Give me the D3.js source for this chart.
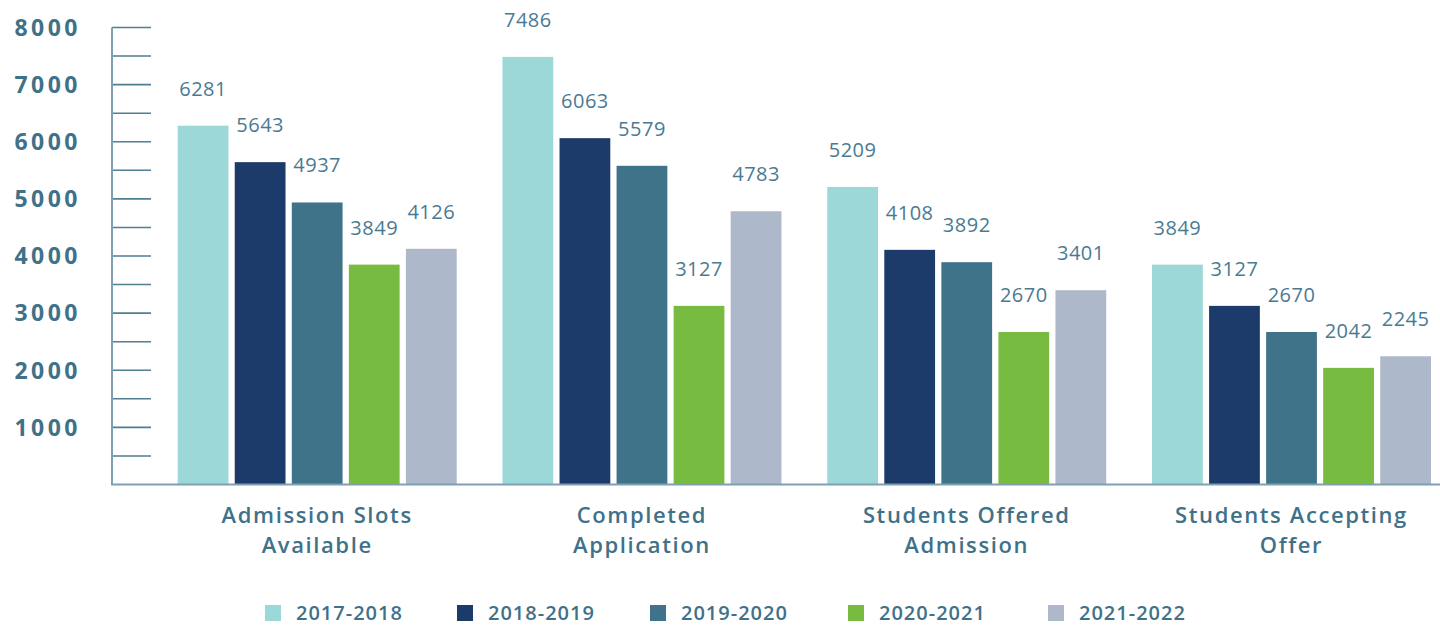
<!DOCTYPE html>
<html><head><meta charset="utf-8">
<script src="https://cdn.jsdelivr.net/npm/d3@7"></script>
<style>
html,body{margin:0;padding:0;background:#fff;}
svg{display:block;font-family:"Open Sans",sans-serif;}
</style></head>
<body><svg id="chart" width="1440" height="625"></svg>
<script>
const categories = [["Admission Slots","Available"],["Completed","Application"],["Students Offered","Admission"],["Students Accepting","Offer"]];
const seriesNames = ["2017-2018","2018-2019","2019-2020","2020-2021","2021-2022"];
const s2017 = [6281, 7486, 5209, 3849];
const s2018 = [5643, 6063, 4108, 3127];
const s2019 = [4937, 5579, 3892, 2670];
const s2020 = [3849, 3127, 2670, 2042];
const s2021 = [4126, 4783, 3401, 2245];
const yTicks = [1000,2000,3000,4000,5000,6000,7000,8000];
const colors = ["#9dd8d8","#1c3b6b","#3f7389","#78bb41","#adb8cb"];

const series = [s2017,s2018,s2019,s2020,s2021];
const svg = d3.select("#chart");
const textColor = "#3f7189";

const y = d3.scaleLinear().domain([0,8000]).range([484.5,27.5]);
const x0 = d3.scaleBand().domain(d3.range(categories.length)).range([154.8,1453.9]).paddingInner(0.141).paddingOuter(0.0705);
const x1 = d3.scaleBand().domain(seriesNames).range([0,x0.bandwidth()]).paddingInner(0.11);

// minor ticks every 500
const axisG = svg.append("g");
axisG.selectAll("line.tk").data(d3.range(500,8001,500)).join("line")
  .attr("x1",112).attr("x2",151).attr("y1",d=>y(d)).attr("y2",d=>y(d))
  .attr("stroke","#4f7e95").attr("stroke-width",1.6);
axisG.append("line").attr("x1",112).attr("x2",112).attr("y1",y(8000)).attr("y2",y(0))
  .attr("stroke","#7ea0b1").attr("stroke-width",2);

// bars
const groups = svg.append("g").selectAll("g").data(categories).join("g")
  .attr("transform",(d,i)=>`translate(${x0(i)},0)`);
groups.each(function(c,i){
  const g = d3.select(this);
  seriesNames.forEach((s,j)=>{
    const v = series[j][i];
    g.append("rect").attr("x",x1(s)).attr("width",x1.bandwidth())
      .attr("y",y(v)).attr("height",y(0)-y(v)).attr("fill",colors[j]);
    g.append("text").attr("x",x1(s)+x1.bandwidth()/2).attr("y",y(v)-30)
      .attr("text-anchor","middle").attr("fill","#4a7a92")
      .style("font-size","20px").style("letter-spacing","0.5px").text(v);
  });
  const t = g.append("text").attr("text-anchor","middle").attr("fill",textColor)
    .style("font-size","22px").style("font-weight","600").style("letter-spacing","1.6px");
  c.forEach((line,k)=>{
    t.append("tspan").attr("x",x0.bandwidth()/2).attr("y",523+k*30).text(line);
  });
});

// bottom axis line
svg.append("line").attr("x1",111).attr("x2",1440).attr("y1",y(0)).attr("y2",y(0))
  .attr("stroke","#7ea0b1").attr("stroke-width",2);

// y labels
svg.append("g").selectAll("text").data(yTicks).join("text")
  .attr("x",81).attr("y",d=>y(d)).attr("dy","0.36em").attr("text-anchor","end")
  .attr("fill",textColor).style("font-size","23px").style("font-weight","700")
  .style("letter-spacing","3.5px").text(d=>d);

// legend
const legendX = [265,457,650,848,1048];
const lg = svg.append("g").selectAll("g").data(seriesNames).join("g")
  .attr("transform",(d,i)=>`translate(${legendX[i]},605)`);
lg.append("rect").attr("width",16).attr("height",16).attr("fill",(d,i)=>colors[i]);
lg.append("text").attr("x",31).attr("y",15).attr("fill",textColor)
  .style("font-size","20px").style("font-weight","600").style("letter-spacing","1px").text(d=>d);
</script></body></html>
